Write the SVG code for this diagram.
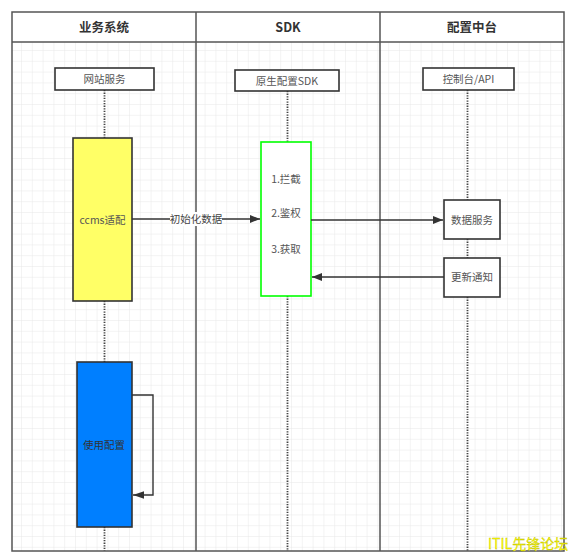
<svg xmlns="http://www.w3.org/2000/svg" width="575" height="555" viewBox="0 0 575 555">
<defs>
<pattern id="grid" x="10.2" y="6.8" width="10.8" height="10.8" patternUnits="userSpaceOnUse">
<path d="M0 0 H10.8 M0 0 V10.8" fill="none" stroke="#e8e8e8" stroke-width="1"/>
</pattern>
<marker id="arr" viewBox="0 0 10 10" refX="10" refY="5" markerWidth="10" markerHeight="10" markerUnits="userSpaceOnUse" orient="auto">
<path d="M0 1 L10 5 L0 9 Z" fill="#333"/>
</marker>
<marker id="arrb" viewBox="0 0 10 10" refX="10" refY="5" markerWidth="11" markerHeight="11" markerUnits="userSpaceOnUse" orient="auto">
<path d="M0 1.5 L10 5 L0 8.5 Z" fill="#333"/>
</marker>
</defs>
<style>
.hdr{font-family:"Noto Sans CJK SC","Liberation Sans",sans-serif;font-size:12.5px;font-weight:bold;fill:#333;text-anchor:middle}
.lbl{font-family:"Noto Sans CJK SC","Liberation Sans",sans-serif;font-size:10.5px;fill:#555;text-anchor:middle}
.box{stroke:#333;stroke-width:1.6}
.life{stroke:#444;stroke-width:1.8;stroke-dasharray:1.3 1.3;fill:none}
.edge{stroke:#333;stroke-width:1.4;fill:none}
.frame{fill:none;stroke:#555;stroke-width:1.5}
</style>
<rect width="575" height="555" fill="#fff"/>
<g id="lanes">
<rect x="12" y="42" width="552" height="509" fill="url(#grid)"/>
<rect x="12" y="12" width="552" height="30" fill="#fff"/>
<rect class="frame" x="12" y="12" width="552" height="539"/>
<line class="frame" x1="12" y1="42" x2="564" y2="42"/>
<line class="frame" x1="196" y1="12" x2="196" y2="551"/>
<line class="frame" x1="380" y1="12" x2="380" y2="551"/>
<text class="hdr" x="104" y="32">业务系统</text>
<text class="hdr" x="288" y="32">SDK</text>
<text class="hdr" x="472" y="32">配置中台</text>
</g>
<g id="lifelines">
<path class="life" d="M104.5 90 V138 M104.5 301 V362 M104.5 527 V551"/>
<path class="life" d="M287.5 91 V142 M287.5 296 V551"/>
<path class="life" d="M467.5 90 V200 M467.5 239 V258 M467.5 297 V551"/>
</g>
<g id="node-wangzhan">
<rect class="box" x="55" y="68" width="99" height="22" fill="#fff"/>
<text class="lbl" x="104.5" y="83">网站服务</text>
</g>
<g id="node-sdk">
<rect class="box" x="235" y="70" width="104" height="21" fill="#fff"/>
<text class="lbl" x="287" y="84.5">原生配置SDK</text>
</g>
<g id="node-api">
<rect class="box" x="423" y="68" width="91" height="22" fill="#fff"/>
<text class="lbl" x="468.5" y="83">控制台/API</text>
</g>
<g id="node-ccms">
<rect class="box" x="73" y="138" width="59" height="163" fill="#ffff66"/>
<text class="lbl" x="102.5" y="223.5">ccms适配</text>
</g>
<g id="node-steps">
<rect x="261" y="142" width="50" height="154" fill="#fff" stroke="#00ff00" stroke-width="1.6"/>
<text class="lbl" x="286" y="183">1.拦截</text>
<text class="lbl" x="286" y="217">2.鉴权</text>
<text class="lbl" x="286" y="253">3.获取</text>
</g>
<g id="node-data">
<rect class="box" x="444" y="200" width="56" height="39" fill="#fff"/>
<text class="lbl" x="472" y="223.5">数据服务</text>
</g>
<g id="node-notify">
<rect class="box" x="444" y="258" width="56" height="39" fill="#fff"/>
<text class="lbl" x="472" y="281">更新通知</text>
</g>
<g id="node-use">
<rect class="box" x="77" y="362" width="55" height="165" fill="#007fff"/>
<text class="lbl" x="104" y="449" style="fill:#333">使用配置</text>
</g>
<g id="connectors">
<line class="edge" x1="132" y1="219" x2="260" y2="219" marker-end="url(#arr)"/>
<rect x="170" y="212" width="52" height="14" fill="#fff"/>
<text class="lbl" x="196" y="223" style="fill:#444">初始化数据</text>
<line class="edge" x1="311" y1="220" x2="443" y2="220" marker-end="url(#arr)"/>
<line class="edge" x1="444" y1="277" x2="312" y2="277" marker-end="url(#arr)"/>
<path class="edge" d="M132 395 H153 V495 H133" marker-end="url(#arrb)"/>
</g>
<text x="488" y="549" font-family="'Noto Sans CJK SC','Liberation Sans',sans-serif" font-size="14" fill="#ffff00" stroke="#b8b800" stroke-width="0.3">ITIL先锋论坛</text>
</svg>
